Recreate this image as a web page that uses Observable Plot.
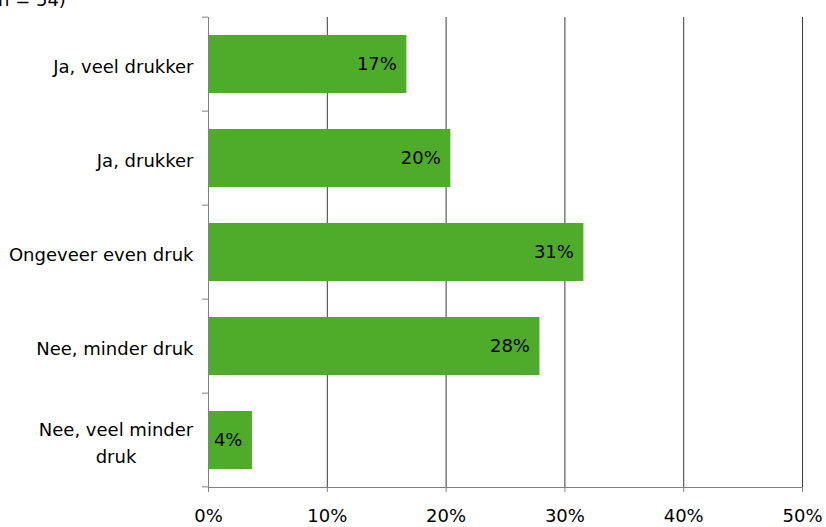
<!DOCTYPE html>
<html><head><meta charset="utf-8">
<script src="https://cdn.jsdelivr.net/npm/d3@7"></script>
<script src="https://cdn.jsdelivr.net/npm/@observablehq/plot@0.6"></script>
<style>
body{margin:0;background:#fff;}
#wrap{position:relative;width:826px;height:527px;overflow:hidden;font-family:"DejaVu Sans";}
#note{position:absolute;left:-9px;top:-9px;font-size:18px;line-height:18px;color:#000;white-space:nowrap;}
#chart svg{display:block;}
</style></head><body>
<div id="wrap"><div id="chart"></div><div id="note">(n = 54)</div></div>
<script>
const categories = ["Ja, veel drukker", "Ja, drukker", "Ongeveer even druk", "Nee, minder druk", "Nee, veel minder druk"];
const categoryText = ["Ja, veel drukker", "Ja, drukker", "Ongeveer even druk", "Nee, minder druk", "Nee, veel minder\ndruk"];
const values = [16.7, 20.4, 31.6, 27.9, 3.7];
const valueLabels = ["17%", "20%", "31%", "28%", "4%"];
const xTicks = [0, 10, 20, 30, 40, 50];

const data = categories.map((c, i) => ({cat: c, text: categoryText[i], value: values[i], label: valueLabels[i]}));

const axisColor = "#808080";
const gridColor = "#3a3a3a";

const plot = Plot.plot({
  width: 826, height: 527,
  marginLeft: 208, marginRight: 24, marginTop: 17, marginBottom: 40,
  style: {fontFamily: "DejaVu Sans", fontSize: "18px", color: "#000", background: "#fff", overflow: "visible"},
  x: {domain: [0, 50], label: null},
  y: {domain: categories, paddingInner: 0.38, paddingOuter: 0.19, axis: null, label: null},
  marks: [
    Plot.gridX(xTicks.slice(1), {stroke: gridColor, strokeOpacity: 1}),
    Plot.barX(data, {y: "cat", x: "value", fill: "#4fab2a"}),
    Plot.text(data, {y: "cat", x: "value", text: "label", textAnchor: "end", dx: -10, fill: "#000"}),
    Plot.text(data, {y: "cat", text: "text", frameAnchor: "left", textAnchor: "end", dx: -15, lineHeight: 1.54, fill: "#000", className: "ylabels"}),
    Plot.axisX({ticks: xTicks, tickFormat: d => d + "%", tickSize: 5, tickPadding: 17, stroke: axisColor, label: null}),
    Plot.ruleX([0], {stroke: axisColor}),
    Plot.frame({anchor: "bottom", stroke: axisColor})
  ]
});
document.getElementById("chart").appendChild(plot);

// boundary ticks on the category axis, derived from the band scale
const ys = plot.scale("y");
const xs = plot.scale("x");
const x0 = xs.apply(0);
const bounds = categories.map(c => ys.apply(c) - ys.step * ys.paddingInner / 2);
bounds.push(ys.apply(categories[categories.length - 1]) + ys.bandwidth + ys.step * ys.paddingInner / 2);
const svg = d3.select(plot);
svg.append("g").selectAll("line").data(bounds).join("line")
  .attr("x1", x0 - 6).attr("x2", x0).attr("y1", d => d).attr("y2", d => d)
  .attr("stroke", axisColor);

// center multi-line category labels
svg.selectAll(".ylabels text").each(function() {
  const tspans = this.querySelectorAll("tspan");
  if (tspans.length > 1) {
    const w = this.getBBox().width;
    this.setAttribute("text-anchor", "middle");
    tspans.forEach(t => t.setAttribute("x", -w / 2));
  }
});
</script>
</body></html>
